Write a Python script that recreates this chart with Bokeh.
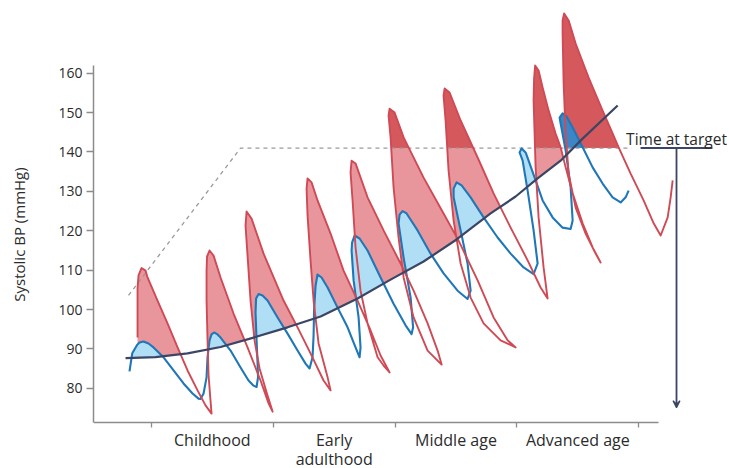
import numpy as np
from bokeh.plotting import figure
from bokeh.models import Range1d, FixedTicker, Arrow, VeeHead, Label
from bokeh.embed import file_html
from bokeh.resources import INLINE

# ---------------- data (arbitrary time units, systolic BP in mmHg) ----------------
stage_bounds = [10, 30, 50, 70, 90]
stage_centres = [20, 40, 60, 80]
stage_labels = ["Childhood", "Early\nadulthood", "Middle age", "Advanced age"]
bp_ticks = [80, 90, 100, 110, 120, 130, 140, 150, 160]
axis_floor_bp = 71.4

target_bp = 141
target_path_t = [6.24, 24.63, 88.83]
target_path_bp = [103.6, 141, 141]

mean_t = [5.75, 10.67, 15.93, 21.35, 26.77, 32.35, 37.77, 43.84, 49.26, 54.68,
          60.10, 65.68, 69.79, 73.40, 77.18, 80.79, 86.54]
mean_bp = [87.7, 87.95, 88.9, 90.5, 92.9, 95.5, 98.25, 102.8, 107.6, 112.2,
           117.8, 124.4, 128.7, 133.3, 137.8, 143.4, 151.8]

red_t = [7.72, 7.72, 7.72, 7.88, 8.37, 9.03, 9.36, 11.00, 12.64, 14.29, 15.93, 17.57, 18.88, 19.87,
         19.70, 19.38, 19.21, 19.05, 19.05, 19.13, 19.54, 20.20, 21.35, 23.48, 25.78, 27.91, 29.23, 29.89,
         28.90, 27.75, 26.93, 26.27, 25.78, 25.45, 25.62, 26.44, 28.41, 31.69, 33.99, 36.12, 38.26, 39.41,
         38.92, 37.44, 36.62, 36.12, 35.63, 35.47, 35.63, 36.29, 37.27, 39.41, 41.54, 43.84, 45.98, 47.62, 49.10,
         48.11, 47.13, 45.48, 44.33, 43.51, 43.02, 42.69, 42.86, 43.51, 45.48, 48.11, 50.90, 53.04, 55.34, 56.98, 57.64,
         55.34, 53.04, 51.40, 50.57, 49.75, 49.26, 48.93, 49.10, 49.92, 51.40, 54.68, 57.96, 60.43, 63.55, 66.17, 68.47, 69.79,
         67.32, 64.53, 62.40, 60.76, 59.61, 58.78, 58.29, 57.96, 58.13, 58.95, 60.76, 63.55, 66.17, 68.97, 71.76, 73.89, 75.04,
         74.38, 73.56, 73.07, 72.74, 72.82, 72.99, 73.56, 74.22, 75.21, 76.35, 77.18, 78.00, 79.15, 80.79, 82.43, 83.74,
         82.92, 81.28, 79.64, 78.49, 78.00, 77.67, 77.50, 77.50, 77.75, 78.49, 79.64, 81.77, 84.07, 85.71, 86.70, 88.67, 90.80, 92.45, 93.60,
         94.75, 95.24, 95.57]
red_bp = [92.9, 99.8, 105.35, 108.7, 110.55, 109.9, 108.15, 102.3, 96.5, 90.4, 84.55, 79.5, 75.7, 73.6,
          76.9, 83.3, 92.2, 102.3, 109.9, 113.5, 115.0, 113.7, 108.15, 99.0, 90.4, 82.0, 76.2, 74.1,
          79.0, 85.05, 92.2, 102.3, 113.7, 121.3, 124.9, 123.1, 114.2, 102.3, 95.5, 88.9, 82.0, 79.5,
          82.8, 91.4, 102.3, 112.5, 123.9, 130.7, 133.3, 132.3, 127.7, 119.3, 109.9, 102.3, 94.7, 88.35, 84.05,
          85.8, 87.9, 96.5, 104.8, 115.8, 127.7, 134.8, 137.8, 137.1, 128.5, 120.1, 111.7, 104.8, 96.5, 89.6, 86.05,
          89.6, 98.0, 108.15, 118.3, 131.0, 143.7, 149.3, 151.0, 150.0, 143.7, 133.5, 124.4, 117.5, 107.4, 98.0, 92.2, 90.4,
          92.2, 96.5, 103.05, 111.7, 122.6, 135.3, 148.0, 154.3, 156.1, 155.1, 148.0, 138.6, 129.5, 120.8, 112.5, 105.6, 102.8,
          110.7, 123.4, 136.1, 153.1, 158.65, 161.95, 160.7, 156.4, 150.5, 144.7, 141.2, 136.1, 129.5, 121.9, 115.8, 111.95,
          114.2, 119.3, 125.9, 134.5, 144.7, 157.4, 170.1, 173.4, 175.15, 173.4, 167.5, 158.9, 150.5, 144.7, 141.2, 134.5, 127.7, 121.9, 118.8,
          123.4, 128.5, 132.8]

blue_t = [6.40, 6.85, 7.67, 8.05, 8.70, 9.52, 10.34, 11.99, 13.63, 15.27, 16.75, 17.73, 18.06,
          18.56, 19.05, 19.21, 19.54, 19.87, 20.28, 20.85, 21.35, 22.99, 24.63, 25.94, 26.77, 27.26,
          27.50, 27.42, 27.26, 27.09, 27.18, 27.59, 28.24, 29.06, 30.71, 32.35, 33.99, 35.30, 35.96,
          36.45, 36.62, 36.70, 36.95, 37.27, 37.93, 38.92, 40.56, 42.20, 43.51, 44.17,
          44.33, 44.01, 43.19, 42.86, 42.94, 43.35, 44.17, 45.48, 47.62, 49.75, 51.72, 52.71,
          52.96, 52.55, 51.40, 50.57, 50.74, 51.23, 51.89, 53.69, 55.83, 57.96, 60.26, 61.90,
          62.40, 61.90, 60.76, 59.61, 59.61, 60.10, 60.92, 62.40, 64.53, 66.83, 68.97, 71.10, 72.74,
          73.40, 72.74, 71.76, 70.94, 70.44, 70.77, 71.43, 71.92, 73.07, 74.22, 75.86, 77.50, 78.82,
          79.15, 78.82, 78.00, 77.18, 77.01, 77.50, 78.16, 79.15, 80.79, 82.43, 84.07, 85.71, 87.03,
          87.85, 88.34]
blue_bp = [84.3, 88.9, 91.1, 91.65, 91.9, 91.4, 90.4, 87.9, 84.55, 81.25, 78.7, 77.4, 77.3,
           78.7, 82.8, 87.9, 92.2, 93.7, 94.2, 93.7, 92.9, 89.6, 85.3, 82.0, 80.7, 80.36,
           82.8, 86.6, 92.2, 99.3, 102.8, 103.95, 103.6, 102.3, 98.0, 93.9, 89.6, 86.3, 85.05,
           87.9, 93.4, 99.8, 106.1, 108.9, 108.15, 105.6, 100.5, 95.5, 90.4, 87.9,
           90.4, 98.0, 107.4, 115.0, 117.0, 118.8, 118.05, 115.0, 108.15, 101.5, 96.0, 93.8,
           95.5, 103.05, 113.2, 121.9, 124.1, 125.0, 124.4, 120.1, 114.2, 109.2, 104.8, 102.7,
           104.8, 111.7, 120.1, 128.5, 130.7, 132.3, 131.5, 128.5, 123.4, 118.3, 114.2, 110.7, 109.0,
           111.7, 120.1, 130.2, 137.8, 139.9, 140.9, 139.9, 137.8, 132.8, 127.7, 123.4, 120.8, 120.45,
           122.6, 131.0, 140.4, 147.2, 148.75, 149.8, 149.0, 146.2, 141.2, 136.1, 132.0, 128.5, 127.2,
           128.5, 130.2]

# annotation "Time at target"
tat_t = 96.2
tat_bar = (90.3, 102.1)
tat_arrow_end_bp = 75.1
tat_text_bp = 143.35

# ---------------- styles ----------------
RED_LINE = "#cf4a55"
RED_LIGHT = "#e8959b"
RED_DARK = "#d5585c"
BLUE_LINE = "#1f77b8"
BLUE_LIGHT = "#b0def5"
BLUE_DARK = "#3d86c6"
NAVY = "#3b4565"
AXIS = "#8c8c8c"
TEXT = "#2b2b2b"
FONT = "Open Sans"


def baseline(t):
    return np.minimum(np.interp(t, mean_t, mean_bp), target_bp)


def regions_above(ts, vs):
    ts = np.asarray(ts, float)
    vs = np.asarray(vs, float)
    b = baseline(ts)
    d = vs - b
    up = d > 0
    polys = []
    n = len(ts)
    i = 0
    while i < n:
        if not up[i]:
            i += 1
            continue
        j = i
        while j + 1 < n and up[j + 1]:
            j += 1
        xs, ys = [], []
        if i > 0:
            s = d[i - 1] / (d[i - 1] - d[i])
            xa = ts[i - 1] + s * (ts[i] - ts[i - 1])
            ya = vs[i - 1] + s * (vs[i] - vs[i - 1])
        else:
            xa, ya = ts[i], b[i]
        xs.append(xa); ys.append(ya)
        xs.extend(ts[i:j + 1]); ys.extend(vs[i:j + 1])
        if j < n - 1:
            s = d[j] / (d[j] - d[j + 1])
            xb = ts[j] + s * (ts[j + 1] - ts[j])
            yb = vs[j] + s * (vs[j + 1] - vs[j])
        else:
            xb, yb = ts[j], b[j]
        xs.append(xb); ys.append(yb)
        back = np.linspace(xb, xa, 30)[1:-1]
        xs.extend(back); ys.extend(baseline(back))
        polys.append(([float(x) for x in xs], [float(y) for y in ys]))
        i = j + 1
    return polys


def clip_above(xs, ys, level):
    ox, oy = [], []
    n = len(xs)
    for k in range(n):
        xa, ya = xs[k], ys[k]
        xb, yb = xs[(k + 1) % n], ys[(k + 1) % n]
        ina = ya >= level
        inb = yb >= level
        if ina:
            ox.append(xa); oy.append(ya)
        if ina != inb:
            s = (level - ya) / (yb - ya)
            ox.append(xa + s * (xb - xa)); oy.append(level)
    return ox, oy


def split_fill(ts, vs):
    polys = regions_above(ts, vs)
    lx = [p[0] for p in polys]
    ly = [p[1] for p in polys]
    dx, dy = [], []
    for xs, ys in polys:
        cx, cy = clip_above(xs, ys, target_bp)
        if len(cx) >= 3:
            dx.append(cx); dy.append(cy)
    return lx, ly, dx, dy


p = figure(width=729, height=468, output_backend="svg", toolbar_location=None,
           x_range=Range1d(0.49, 104.9), y_range=Range1d(59.67, 178.45),
           min_border_left=93, min_border_right=0, min_border_top=0, min_border_bottom=0)
p.outline_line_color = None
p.xgrid.visible = False
p.ygrid.visible = False
p.background_fill_color = "white"
p.border_fill_color = "white"

# fills
rlx, rly, rdx, rdy = split_fill(red_t, red_bp)
blx, bly, bdx, bdy = split_fill(blue_t, blue_bp)
p.patches(rlx, rly, fill_color=RED_LIGHT, line_color=None)
if rdx:
    p.patches(rdx, rdy, fill_color=RED_DARK, line_color=None)
p.patches(blx, bly, fill_color=BLUE_LIGHT, line_color=None)
if bdx:
    p.patches(bdx, bdy, fill_color=BLUE_DARK, line_color=None)

# target path
p.line(target_path_t, target_path_bp, line_color="#9a9a9a", line_width=1.3, line_dash="4 4")

# curves
p.line(blue_t, blue_bp, line_color=BLUE_LINE, line_width=2.1, line_join="round")
p.line(red_t, red_bp, line_color=RED_LINE, line_width=1.9, line_join="round")
p.line(mean_t, mean_bp, line_color=NAVY, line_width=2.2, line_join="round")

# time at target annotation
p.segment(x0=[tat_bar[0]], y0=[target_bp], x1=[tat_bar[1]], y1=[target_bp],
          line_color=NAVY, line_width=2)
p.add_layout(Arrow(end=VeeHead(size=7, line_color=NAVY, fill_color=NAVY, line_width=1.2),
                   x_start=tat_t, y_start=target_bp, x_end=tat_t, y_end=tat_arrow_end_bp,
                   line_color=NAVY, line_width=1.8))
p.add_layout(Label(x=tat_t, y=tat_text_bp, text="Time at target", text_align="center",
                   text_baseline="alphabetic", text_font=FONT, text_font_size="15.5px",
                   text_color=TEXT))

# x axis: stage names between boundary ticks, drawn at the floor of the BP scale
xa = p.xaxis[0]
xa.fixed_location = axis_floor_bp
xa.ticker = FixedTicker(ticks=stage_centres, minor_ticks=stage_bounds)
xa.major_label_overrides = {c: lab for c, lab in zip(stage_centres, stage_labels)}
xa.bounds = (0.49, 93.3)
xa.major_tick_out = 0
xa.major_tick_in = 0
xa.major_tick_line_color = None
xa.minor_tick_out = 5
xa.minor_tick_in = 0
xa.minor_tick_line_color = AXIS
xa.minor_tick_line_width = 1.3
xa.axis_line_color = AXIS
xa.axis_line_width = 1.5
xa.major_label_text_font = FONT
xa.major_label_text_font_size = "16px"
xa.major_label_text_color = TEXT
xa.major_label_text_line_height = 0.85
xa.major_label_standoff = 2

ya = p.yaxis[0]
ya.ticker = FixedTicker(ticks=bp_ticks)
ya.bounds = (axis_floor_bp, 162)
ya.major_tick_out = 7
ya.major_tick_in = 0
ya.minor_tick_line_color = None
ya.axis_line_color = AXIS
ya.axis_line_width = 1.5
ya.major_tick_line_color = AXIS
ya.major_tick_line_width = 1.3
ya.major_label_text_font = FONT
ya.major_label_text_font_size = "14px"
ya.major_label_text_color = TEXT
ya.major_label_standoff = 4
ya.axis_label = "Systolic BP (mmHg)"
ya.axis_label_text_font = FONT
ya.axis_label_text_font_size = "15px"
ya.axis_label_text_font_style = "normal"
ya.axis_label_text_color = TEXT
ya.axis_label_standoff = 26

open("out.html", "w").write(file_html(p, INLINE))
